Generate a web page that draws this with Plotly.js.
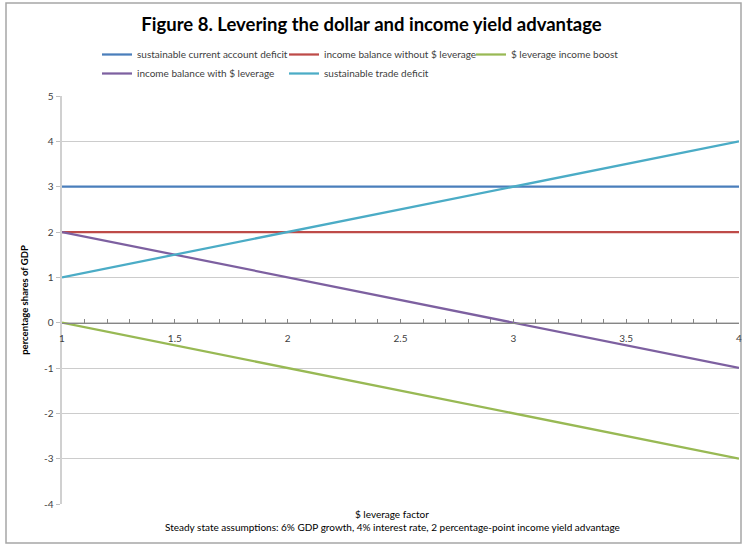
<!DOCTYPE html>
<html>
<head>
<meta charset="utf-8">
<script src="https://cdn.plot.ly/plotly-3.0.1.min.js"></script>
<style>html,body{margin:0;padding:0;background:#fff;}#chart{width:743px;height:546px;}</style>
</head>
<body>
<div id="chart"></div>
<script>
// Leverage factor (x values)
const leverageFactor = [1, 1.5, 2, 2.5, 3, 3.5, 4];
// Series values (percentage shares of GDP)
const sustainableCurrentAccountDeficit = [3, 3, 3, 3, 3, 3, 3];
const incomeBalanceWithoutLeverage = [2, 2, 2, 2, 2, 2, 2];
const leverageIncomeBoost = [0, -0.5, -1, -1.5, -2, -2.5, -3];
const incomeBalanceWithLeverage = [2, 1.5, 1, 0.5, 0, -0.5, -1];
const sustainableTradeDeficit = [1, 1.5, 2, 2.5, 3, 3.5, 4];

const seriesNames = [
  'sustainable current account deficit',
  'income balance without $ leverage',
  '$ leverage income boost',
  'income balance with $ leverage',
  'sustainable trade deficit'
];
const seriesColors = ['#4A7EBB', '#BE4B48', '#98B954', '#7D60A0', '#4BACC6'];
const seriesValues = [sustainableCurrentAccountDeficit, incomeBalanceWithoutLeverage,
  leverageIncomeBoost, incomeBalanceWithLeverage, sustainableTradeDeficit];

const yTicks = [-4, -3, -2, -1, 0, 1, 2, 3, 4, 5];
const xTicks = [1, 1.5, 2, 2.5, 3, 3.5, 4];

const FONT = 'Lato, "Open Sans", "Liberation Sans", sans-serif';

const traces = seriesValues.map((vals, i) => ({
  x: leverageFactor,
  y: vals,
  type: 'scatter',
  mode: 'lines',
  name: seriesNames[i],
  line: {color: seriesColors[i], width: 2.25},
  hoverinfo: 'x+y+name'
}));

// plot area in px: left 62, right 739, top 96, bottom 504
const L = 62, R = 739, T = 96, B = 504, W = 743, H = 546;
const px2x = p => (p - L) / (R - L);
const px2y = p => (B - p) / (B - T);

const layout = {
  width: W,
  height: H,
  margin: {l: L, r: W - R, t: T, b: H - B, pad: 0},
  paper_bgcolor: '#ffffff',
  plot_bgcolor: '#ffffff',
  font: {family: FONT, size: 10, color: '#404040'},
  title: {
    text: '<b>Figure 8. Levering the dollar and income yield advantage</b>',
    font: {family: FONT, size: 18.5, color: '#000000'},
    x: 0.5, xref: 'container', xanchor: 'center',
    y: 1 - 25 / H, yref: 'container', yanchor: 'middle'
  },
  showlegend: true,
  legend: {
    orientation: 'h',
    x: px2x(97), xanchor: 'left',
    y: px2y(40), yanchor: 'top',
    font: {family: FONT, size: 10, color: '#404040'},
    entrywidth: 142,
    entrywidthmode: 'pixels',
    traceorder: 'normal',
    bgcolor: 'rgba(0,0,0,0)'
  },
  xaxis: {
    type: 'linear',
    range: [1, 4],
    tickvals: xTicks,
    ticktext: xTicks.map(String),
    anchor: 'free',
    position: (0 - (-4)) / 9,
    showline: true,
    linecolor: '#868686',
    linewidth: 1,
    showgrid: false,
    zeroline: false,
    ticks: 'inside',
    ticklen: 4,
    tickcolor: '#868686',
    minor: {dtick: 0.1, tick0: 1, ticks: 'inside', ticklen: 4, tickcolor: '#868686', showgrid: false},
    ticklabelstandoff: 6,
    tickfont: {family: FONT, size: 10, color: '#404040'},
    fixedrange: true
  },
  yaxis: {
    range: [-4, 5],
    tickvals: yTicks,
    ticktext: yTicks.map(String),
    showline: true,
    linecolor: '#D0D0D0',
    linewidth: 2.5,
    showgrid: true,
    gridcolor: '#CCCCCC',
    gridwidth: 1,
    zeroline: false,
    ticks: 'outside',
    ticklen: 4,
    tickcolor: '#BFBFBF',
    tickfont: {family: FONT, size: 10, color: '#404040'},
    title: {
      text: '<b>percentage shares of GDP</b>',
      font: {family: FONT, size: 9.5, color: '#000000'},
      standoff: 14
    },
    fixedrange: true
  },
  annotations: [
    {
      text: '$ leverage factor',
      xref: 'paper', yref: 'paper',
      x: px2x(392), y: px2y(514),
      xanchor: 'center', yanchor: 'middle',
      showarrow: false,
      font: {family: FONT, size: 10, color: '#000000'}
    },
    {
      text: 'Steady state assumptions: 6% GDP growth, 4% interest rate, 2 percentage-point income yield advantage',
      xref: 'paper', yref: 'paper',
      x: px2x(392), y: px2y(527),
      xanchor: 'center', yanchor: 'middle',
      showarrow: false,
      font: {family: FONT, size: 10, color: '#000000'}
    }
  ],
  shapes: [
    {
      type: 'rect', xref: 'paper', yref: 'paper', layer: 'below',
      x0: px2x(6), x1: px2x(741), y0: px2y(543), y1: px2y(3),
      line: {color: '#A6A6A6', width: 1.5}, fillcolor: 'rgba(0,0,0,0)'
    }
  ]
};

Plotly.newPlot('chart', traces, layout, {displayModeBar: false, staticPlot: true});
</script>
</body>
</html>
